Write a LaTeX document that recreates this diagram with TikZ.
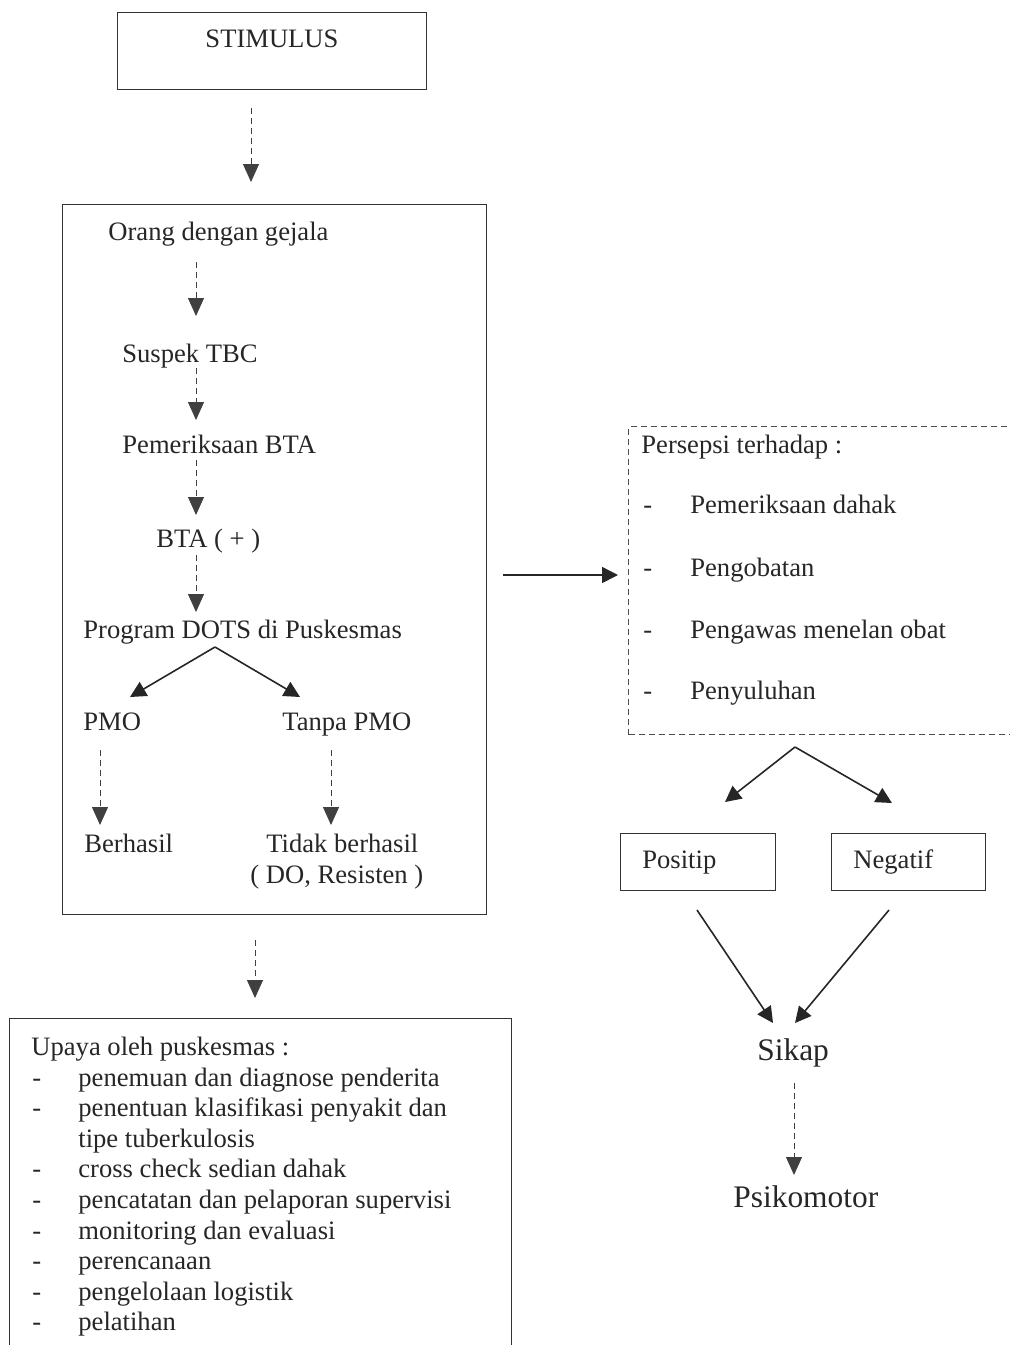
\documentclass[tikz,border=0pt]{standalone}
\usepackage{fontspec}
\setmainfont{Liberation Serif}
\usetikzlibrary{arrows.meta}
\begin{document}
\begin{tikzpicture}[x=0.5pt,y=-0.5pt,
  txt/.style={anchor=base west, inner sep=0pt, font=\fontsize{13.3}{16}\selectfont, text=black!85},
  bigtxt/.style={anchor=base west, inner sep=0pt, font=\fontsize{15.7}{19}\selectfont, text=black!85},
  boxline/.style={draw=black!80, line width=0.6pt, inner sep=0pt, anchor=north west},
  dboxline/.style={draw=black!70, line width=0.5pt, densely dashed, inner sep=0pt, anchor=north west},
  varrow/.style={draw=black!75, line width=0.5pt, densely dashed, -{Triangle[length=9pt,width=8pt]}},
  darrow/.style={draw=black!85, line width=0.8pt, -{Triangle[length=8pt,width=8pt]}},
]
\useasboundingbox (0,0) rectangle (1010,1345);

% ---------- boxes ----------
\node (stim) [boxline, minimum width=154.5pt, minimum height=38.5pt] at (117,12) {};
\node (main) [boxline, minimum width=212pt, minimum height=355pt] at (62,204) {};
\node (upaya) [boxline, minimum width=251pt, minimum height=180pt] at (9,1018) {};
\node (pers) [dboxline, minimum width=200pt, minimum height=154pt] at (628,426) {};
\node (pos) [boxline, minimum width=77.5pt, minimum height=28.5pt] at (620,833) {};
\node (neg) [boxline, minimum width=77pt, minimum height=28.5pt] at (831,833) {};

% ---------- texts ----------
\node (tstim) [txt, anchor=base] at (272,47) {STIMULUS};
\node (orang) [txt] at (108,240) {Orang dengan gejala};
\node (suspek) [txt] at (122,362) {Suspek TBC};
\node (periksa) [txt] at (122,453) {Pemeriksaan BTA};
\node (bta) [txt] at (156,547) {BTA ( + )};
\node (dots) [txt] at (83,638) {Program DOTS di Puskesmas};
\node (pmo) [txt] at (83,730) {PMO};
\node (tanpa) [txt] at (282,730) {Tanpa PMO};
\node (berhasil) [txt] at (84,852) {Berhasil};
\node (tidak) [txt] at (266,852) {Tidak berhasil};
\node (dores) [txt] at (250,883) {( DO, Resisten )};

\node (tpers) [txt] at (641,453) {Persepsi terhadap :};
\node (p1) [txt] at (643,513) {\makebox[23.5pt][l]{-}Pemeriksaan dahak};
\node (p2) [txt] at (643,576) {\makebox[23.5pt][l]{-}Pengobatan};
\node (p3) [txt] at (643,638) {\makebox[23.5pt][l]{-}Pengawas menelan obat};
\node (p4) [txt] at (643,699) {\makebox[23.5pt][l]{-}Penyuluhan};

\node (tpos) [txt] at (642,868) {Positip};
\node (tneg) [txt] at (853,868) {Negatif};
\node (sikap) [bigtxt] at (757,1060) {Sikap};
\node (psiko) [bigtxt] at (733,1207) {Psikomotor};

\node (tupaya) [txt] at (31,1055) {Upaya oleh puskesmas :};
\node (u1) [txt] at (32,1086) {\makebox[23pt][l]{-}penemuan dan diagnose penderita};
\node (u2) [txt] at (32,1116.6) {\makebox[23pt][l]{-}penentuan klasifikasi penyakit dan};
\node (u2b) [txt] at (78,1147.2) {tipe tuberkulosis};
\node (u3) [txt] at (32,1177.8) {\makebox[23pt][l]{-}cross check sedian dahak};
\node (u4) [txt] at (32,1208.4) {\makebox[23pt][l]{-}pencatatan dan pelaporan supervisi};
\node (u5) [txt] at (32,1239) {\makebox[23pt][l]{-}monitoring dan evaluasi};
\node (u6) [txt] at (32,1269.6) {\makebox[23pt][l]{-}perencanaan};
\node (u7) [txt] at (32,1300.2) {\makebox[23pt][l]{-}pengelolaan logistik};
\node (u8) [txt] at (32,1330.8) {\makebox[23pt][l]{-}pelatihan};

% ---------- connector end points ----------
\coordinate (s0) at (251,108);  \coordinate (e0) at (251,182);
\coordinate (s1) at (196,262);  \coordinate (e1) at (196,316);
\coordinate (s2) at (196,368);  \coordinate (e2) at (196,420);
\coordinate (s3) at (196,460);  \coordinate (e3) at (196,515);
\coordinate (s4) at (196,555);  \coordinate (e4) at (196,612);
\coordinate (apex1) at (215,647);
\coordinate (eL1) at (130,697); \coordinate (eR1) at (300,697);
\coordinate (s5) at (100,750);  \coordinate (e5) at (100,825);
\coordinate (s6) at (331,750);  \coordinate (e6) at (331,825);
\coordinate (s7) at (255,940);  \coordinate (e7) at (255,998);
\coordinate (s8) at (503,575);  \coordinate (e8) at (618,575);
\coordinate (apex2) at (795,747);
\coordinate (eL2) at (725,802); \coordinate (eR2) at (892,803);
\coordinate (s9) at (697,910);  \coordinate (e9) at (773,1023);
\coordinate (s10) at (889,910); \coordinate (e10) at (795,1023);
\coordinate (s11) at (794,1083); \coordinate (e11) at (794,1175);

% ---------- connectors ----------
\draw[varrow] (s0) -- (e0);
\draw[varrow] (s1) -- (e1);
\draw[varrow] (s2) -- (e2);
\draw[varrow] (s3) -- (e3);
\draw[varrow] (s4) -- (e4);
\draw[darrow] (apex1) -- (eL1);
\draw[darrow] (apex1) -- (eR1);
\draw[varrow] (s5) -- (e5);
\draw[varrow] (s6) -- (e6);
\draw[varrow] (s7) -- (e7);
\draw[darrow] (s8) -- (e8);
\draw[darrow] (apex2) -- (eL2);
\draw[darrow] (apex2) -- (eR2);
\draw[darrow] (s9) -- (e9);
\draw[darrow] (s10) -- (e10);
\draw[varrow] (s11) -- (e11);
\end{tikzpicture}
\end{document}
